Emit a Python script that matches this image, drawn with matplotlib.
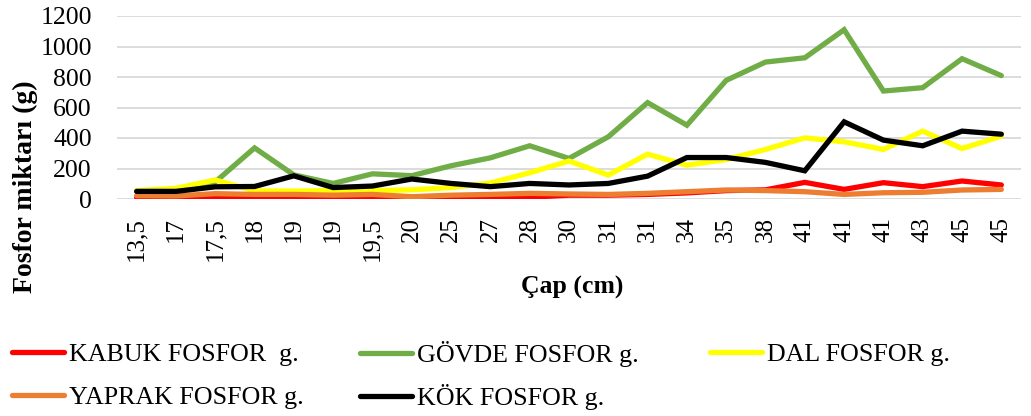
import matplotlib

matplotlib.use("Agg")
import matplotlib.pyplot as plt
import numpy as np

plt.rcParams["font.family"] = ["Liberation Serif", "DejaVu Serif"]

# Çap (cm) categories and phosphorus amounts (g) per tree part
cap = ["13,5", "17", "17,5", "18", "19", "19", "19,5", "20", "25", "27", "28", "30",
       "31", "31", "34", "35", "38", "41", "41", "41", "43", "45", "45"]
kabuk = [10, 8, 5, 5, 10, 10, 10, 15, 15, 10, 12, 25, 25, 30, 40, 55, 60, 109, 63, 107, 81, 118, 92]
govde = [50, 55, 112, 335, 158, 102, 165, 153, 218, 270, 349, 266, 408, 632, 484, 778, 898, 926,
         1110, 708, 730, 920, 809]
dal = [55, 70, 125, 53, 52, 55, 55, 60, 75, 105, 172, 249, 157, 294, 222, 259, 325, 401, 375, 325,
       445, 331, 412]
yaprak = [22, 20, 35, 30, 30, 25, 30, 15, 25, 30, 37, 33, 30, 37, 48, 59, 55, 48, 30, 41, 44, 59, 63]
kok = [50, 50, 80, 82, 152, 75, 85, 131, 102, 81, 102, 92, 102, 150, 272, 272, 240, 185, 506, 386,
       349, 445, 425]

series = [
    ("KABUK FOSFOR  g.", kabuk, "#FF0000"),
    ("GÖVDE FOSFOR g.", govde, "#70AD47"),
    ("DAL FOSFOR g.", dal, "#FFFF00"),
    ("YAPRAK FOSFOR g.", yaprak, "#ED7D31"),
    ("KÖK FOSFOR g.", kok, "#000000"),
]

W, H = 1031, 416
fig = plt.figure(figsize=(W / 100, H / 100), dpi=100)
ax = fig.add_axes([117 / W, 1 - 199 / H, (1021 - 117) / W, (199 - 16) / H])

x = np.arange(len(cap))
lines = []
for name, vals, col in series:
    (ln,) = ax.plot(x, vals, color=col, lw=3.8, solid_joinstyle="miter",
                    solid_capstyle="round", label=name)
    lines.append(ln)

ax.set_xlim(-0.5, len(cap) - 0.5)
ax.set_ylim(0, 1200)
ax.set_yticks(np.arange(0, 1201, 200))
ax.set_xticks(x)
ax.set_xticklabels(cap, rotation=90)
ax.yaxis.grid(True, color="#D9D9D9", lw=1.3)
ax.set_axisbelow(True)
for s in ax.spines.values():
    s.set_visible(False)
ax.tick_params(axis="y", length=0, pad=18, labelsize=18.5)
ax.tick_params(axis="x", length=0, pad=13, labelsize=18)

fig.text(25 / W, 1 - 187 / H, "Fosfor miktarı (g)", rotation=90, ha="center", va="center",
         fontsize=20, fontweight="bold")
fig.text(572 / W, 1 - 287 / H, "Çap (cm)", ha="center", va="center",
         fontsize=18.5, fontweight="bold")

# legend: 3 columns x 2 rows, row-major like the original (one entry each for exact spacing)
col_left = [12, 360, 710]
row_y = [354, 397]
for i, ln in enumerate(lines):
    r, c = divmod(i, 3)
    fig.legend([ln], [ln.get_label()], loc="center left",
               bbox_to_anchor=(col_left[c] / W, 1 - row_y[r] / H), frameon=False,
               fontsize=18.7, borderpad=0, borderaxespad=0, handlelength=2.0,
               handletextpad=0.2)

fig.savefig("out.png", dpi=100)
